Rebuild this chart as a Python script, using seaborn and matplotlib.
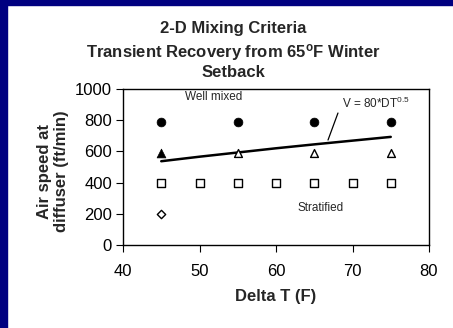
import matplotlib
matplotlib.use("Agg")
import matplotlib.pyplot as plt
import seaborn as sns
from matplotlib.patches import Rectangle

# ---- data ----
well_mixed_dt = [45, 55, 65, 75]
well_mixed_v = [790, 790, 790, 790]
filled_tri_dt = [45]
filled_tri_v = [590]
open_tri_dt = [55, 65, 75]
open_tri_v = [590, 590, 590]
square_dt = [45, 50, 55, 60, 65, 70, 75]
square_v = [400, 400, 400, 400, 400, 400, 400]
diamond_dt = [45]
diamond_v = [200]
curve_dt = [45, 50, 55, 60, 65, 70, 75]
curve_v = [537, 566, 593, 620, 645, 669, 693]

x_ticks = [40, 50, 60, 70, 80]
y_ticks = [0, 200, 400, 600, 800, 1000]

title_lines = ["2-D Mixing Criteria",
               "Transient Recovery from 65$^{\\mathregular{o}}$F Winter",
               "Setback"]
xlabel = "Delta T (F)"
ylabel = "Air speed at\ndiffuser (ft/min)"

sns.set_theme(style="white")
plt.rcParams["font.family"] = ["Liberation Sans", "DejaVu Sans"]
plt.rcParams["mathtext.fontset"] = "custom"
plt.rcParams["mathtext.rm"] = "Liberation Sans"
plt.rcParams["mathtext.bf"] = "Liberation Sans:bold"
plt.rcParams["mathtext.default"] = "regular"

W, H = 453, 328
fig = plt.figure(figsize=(W / 100, H / 100), dpi=100)
fig.patch.set_facecolor("white")
ax = fig.add_axes([123 / W, 1 - 245 / H, (429 - 123) / W, (245 - 89) / H])

navy = "#000080"
fig.patches.append(Rectangle((0, 0), 7 / W, 1, transform=fig.transFigure, color=navy, zorder=10))
fig.patches.append(Rectangle((0, 1 - 5 / H), 1, 5 / H, transform=fig.transFigure, color=navy, zorder=10))

sns.lineplot(x=curve_dt, y=curve_v, ax=ax, color="black", linewidth=1.8, zorder=2)
sns.scatterplot(x=well_mixed_dt, y=well_mixed_v, ax=ax, marker="o", s=40,
                color="black", edgecolor="black", zorder=3)
sns.scatterplot(x=filled_tri_dt, y=filled_tri_v, ax=ax, marker="^", s=40,
                color="black", edgecolor="black", zorder=3)
sns.scatterplot(x=open_tri_dt, y=open_tri_v, ax=ax, marker="^", s=32,
                facecolor="white", edgecolor="black", linewidth=1.0, zorder=3)
sns.scatterplot(x=square_dt, y=square_v, ax=ax, marker="s", s=32,
                facecolor="white", edgecolor="black", linewidth=1.0, zorder=3)
sns.scatterplot(x=diamond_dt, y=diamond_v, ax=ax, marker="D", s=18,
                facecolor="white", edgecolor="black", linewidth=1.0, zorder=3)

ax.set_xlim(40, 80)
ax.set_ylim(0, 1000)
ax.set_xticks(x_ticks)
ax.set_yticks(y_ticks)
ax.tick_params(axis="both", direction="out", length=5, width=0.8, labelsize=12,
               bottom=True, left=True, colors="black")
ax.tick_params(axis="x", pad=9)
ax.tick_params(axis="y", pad=3)
for sp in ax.spines.values():
    sp.set_visible(True)
    sp.set_color("black")
    sp.set_linewidth(1.0)

baselines = [33, 57, 77]
for txt, yb in zip(title_lines, baselines):
    fig.text(233 / W, 1 - yb / H, txt, fontsize=12, fontweight="bold",
             ha="center", va="baseline")

ax.set_xlabel(xlabel, fontsize=12, fontweight="bold")
ax.xaxis.set_label_coords(0.5, -(289 - 245) / 156)
ax.set_ylabel(ylabel, fontsize=12, fontweight="bold", linespacing=1.15)
ax.yaxis.set_label_coords(-(123 - 69) / 306, 0.47)

ax.text(51.8, 950, "Well mixed", fontsize=8.5, ha="center", va="center")
ax.text(65.8, 237, "Stratified", fontsize=8.5, ha="center", va="center")
ax.text(73.0, 905, "V = 80*DT$^{0.5}$", fontsize=8.5, ha="center", va="center")
ax.plot([68.1, 66.8], [846, 673], color="black", linewidth=0.9)

fig.savefig("out.png", dpi=100)
